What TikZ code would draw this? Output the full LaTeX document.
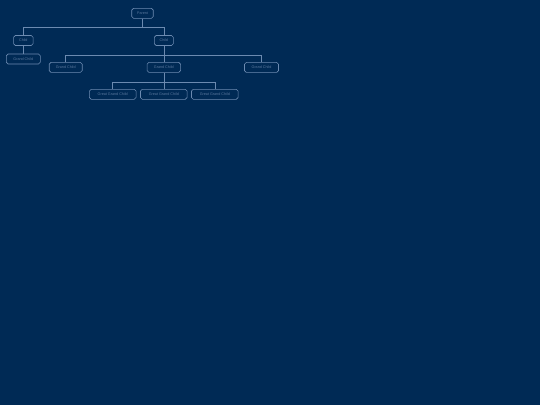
\documentclass[tikz,border=0pt]{standalone}
\usepackage{fontspec}
\setmainfont{Liberation Sans}
\definecolor{bg}{HTML}{002A55}
\definecolor{edge}{HTML}{6C8AB0}
\definecolor{txt}{HTML}{5A789D}
\begin{document}
\begin{tikzpicture}[x=1pt,y=-1pt,
  box/.style={draw=edge,line width=0.6pt,rounded corners=1.8pt,text=txt,
    font=\fontsize{3.7}{4}\selectfont,inner sep=0pt,minimum height=10pt,anchor=center},
  conn/.style={draw=edge,line width=0.6pt}]
\fill[bg] (0,0) rectangle (540,405);
\useasboundingbox (0,0) rectangle (540,405);
\node[box,minimum width=21.5pt] (p) at (142.5,13.3) {Parent};
\node[box,minimum width=19.5pt] (c1) at (23.3,40.5) {Child};
\node[box,minimum width=19pt] (c2) at (163.8,40.5) {Child};
\node[box,minimum width=34pt] (g0) at (23.3,59) {Grand Child};
\node[box,minimum width=33pt] (g1) at (65.7,67.4) {Grand Child};
\node[box,minimum width=33.5pt] (g2) at (163.8,67.4) {Grand Child};
\node[box,minimum width=34pt] (g3) at (261.5,67.4) {Grand Child};
\node[box,minimum width=46.7pt] (h1) at (112.7,94.3) {Great Grand Child};
\node[box,minimum width=46.7pt] (h2) at (163.8,94.3) {Great Grand Child};
\node[box,minimum width=46.7pt] (h3) at (214.8,94.3) {Great Grand Child};
\draw[conn] (p.south) -- ++(0,9) -| (c1.north);
\draw[conn] (p.south) -- ++(0,9) -| (c2.north);
\draw[conn] (c1.south) -- (g0.north);
\draw[conn] (c2.south) -- ++(0,9) -| (g1.north);
\draw[conn] (c2.south) -- (g2.north);
\draw[conn] (c2.south) -- ++(0,9) -| (g3.north);
\draw[conn] (g2.south) -- ++(0,9.3) -| (h1.north);
\draw[conn] (g2.south) -- (h2.north);
\draw[conn] (g2.south) -- ++(0,9.3) -| (h3.north);
\end{tikzpicture}
\end{document}
